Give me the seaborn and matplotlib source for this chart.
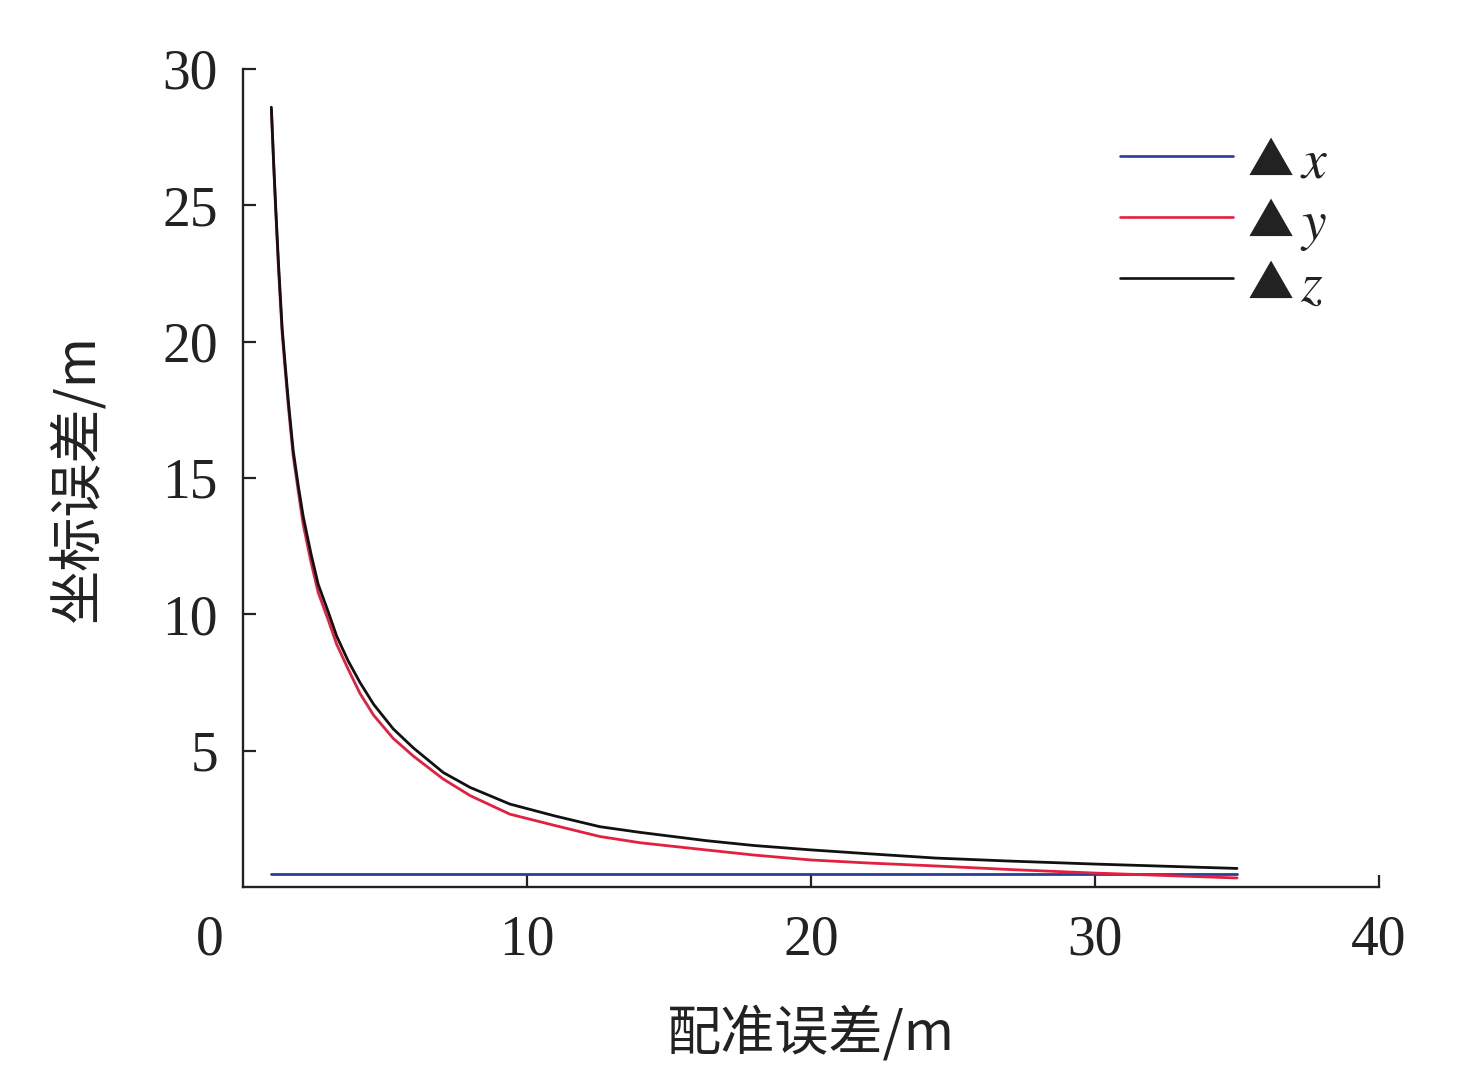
import numpy as np
import pandas as pd
import matplotlib
matplotlib.use("Agg")
import matplotlib.pyplot as plt
import matplotlib.transforms as mtransforms
import seaborn as sns

# ---- data ----
reg_err = [1.0, 1.08, 1.15, 1.25, 1.38, 1.5, 1.6, 1.77, 1.95, 2.12, 2.4, 2.65, 3.0, 3.3,
           3.7, 4.12, 4.6, 5.29, 6.0, 7.05, 8.0, 9.4, 11.0, 12.57, 14.0, 16.3, 18.0,
           20.0, 22.0, 24.4, 27.0, 30.0, 32.5, 35.0]
dz = [28.6, 26.6, 25.0, 22.9, 20.5, 19.0, 17.8, 16.0, 14.7, 13.6, 12.2, 11.1, 10.1, 9.2,
      8.3, 7.5, 6.7, 5.8, 5.1, 4.2, 3.65, 3.04, 2.6, 2.21, 2.0, 1.70, 1.52,
      1.36, 1.22, 1.06, 0.95, 0.84, 0.76, 0.68]
dy = [28.5, 26.5, 24.9, 22.7, 20.3, 18.8, 17.6, 15.8, 14.5, 13.3, 11.9, 10.8, 9.8, 8.9,
      8.0, 7.1, 6.3, 5.45, 4.8, 3.96, 3.35, 2.67, 2.25, 1.85, 1.62, 1.36, 1.17,
      0.99, 0.88, 0.77, 0.64, 0.51, 0.42, 0.33]
dx = [0.46] * len(reg_err)

series_names = ["▲x", "▲y", "▲z"]
series_letters = [r"$\mathit{x}$", r"$\mathit{y}$", r"$\mathit{z}$"]
colors = ["#2a3d94", "#e3203f", "#111111"]

df = pd.concat([
    pd.DataFrame({"reg": reg_err, "err": dx, "s": series_names[0]}),
    pd.DataFrame({"reg": reg_err, "err": dy, "s": series_names[1]}),
    pd.DataFrame({"reg": reg_err, "err": dz, "s": series_names[2]}),
])

sns.set_theme(style="white")
plt.rcParams["font.family"] = ["Liberation Serif", "Noto Sans CJK SC", "DejaVu Sans"]
plt.rcParams["mathtext.fontset"] = "stix"

fig = plt.figure(figsize=(14.76, 10.83), dpi=100)
ax = fig.add_axes([0.1646, 0.181, 0.7697, 0.7553])

sns.lineplot(data=df, x="reg", y="err", hue="s", palette=dict(zip(series_names, colors)),
             linewidth=2.0, ax=ax, legend=False, sort=False)

ax.set_xlim(0, 40)
ax.set_ylim(0, 30)
ax.set_xticks([10, 20, 30, 40])
ax.set_yticks([5, 10, 15, 20, 25, 30])
ax.tick_params(axis="both", direction="in", length=9, width=1.6, colors="#222222",
               labelsize=40, labelcolor="#222222", left=True, bottom=True)
ax.tick_params(axis="y", pad=18)
ax.tick_params(axis="x", pad=20)
for s in ["top", "right"]:
    ax.spines[s].set_visible(False)
for s in ["left", "bottom"]:
    ax.spines[s].set_linewidth(1.7)
    ax.spines[s].set_color("#222222")

ax.annotate("0", xy=(0, 0), xycoords="axes fraction", xytext=(-33, -28),
            textcoords="offset pixels", ha="center", va="top", fontsize=40, color="#222222")

ax.set_xlabel("配准误差/m", fontsize=39, color="#222222",
              family=["Noto Sans CJK SC", "DejaVu Sans"], labelpad=28)
ax.set_ylabel("坐标误差/m", fontsize=39, color="#222222",
              family=["Noto Sans CJK SC", "DejaVu Sans"], labelpad=40)

from matplotlib.lines import Line2D
handles = [Line2D([0], [0], color=c, lw=1.9) for c in colors]
leg = ax.legend(handles, [r"$▲$"] * 3, loc="upper left", bbox_to_anchor=(0.772, 0.916),
                frameon=False, fontsize=29, handlelength=2.8, handletextpad=0.35,
                labelspacing=0.5, borderpad=0, borderaxespad=0)
for t in leg.get_texts():
    t.set_color("#222222")

fig.canvas.draw()
renderer = fig.canvas.get_renderer()
ident = mtransforms.IdentityTransform()
for t, letter in zip(leg.get_texts(), series_letters):
    bb = t.get_window_extent(renderer)
    fig.text(bb.x1 + 6, bb.y0 + 1, letter, transform=ident, fontsize=40,
             color="#222222", ha="left", va="baseline")

fig.savefig("out.png", dpi=100)
